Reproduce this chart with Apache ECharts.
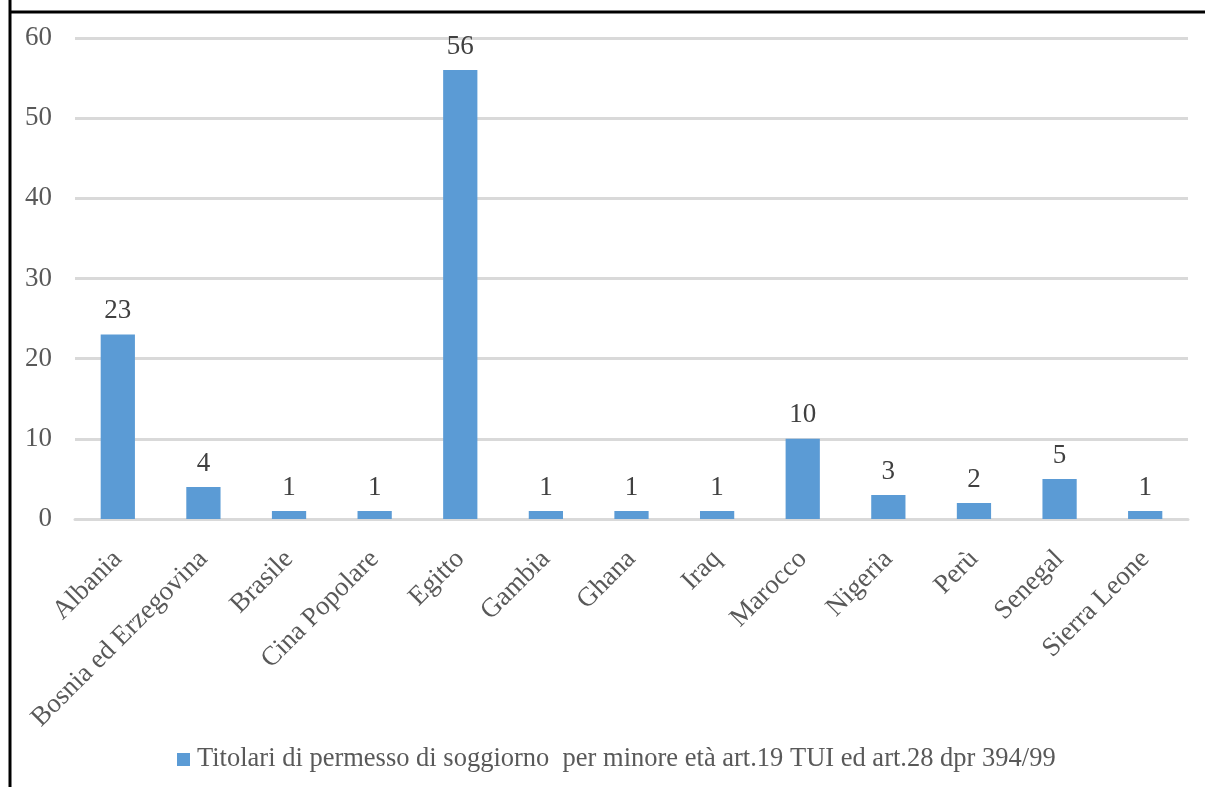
<!DOCTYPE html>
<html>
<head>
<meta charset="utf-8">
<script src="https://cdn.jsdelivr.net/npm/echarts@6/dist/echarts.min.js"></script>
<style>
html,body{margin:0;padding:0;background:#fff;}
#c{width:1205px;height:787px;}
</style>
</head>
<body>
<div id="c"></div>
<script>
const categories = ["Albania","Bosnia ed Erzegovina","Brasile","Cina Popolare","Egitto","Gambia","Ghana","Iraq","Marocco","Nigeria","Perù","Senegal","Sierra Leone"];
const values = [23,4,1,1,56,1,1,1,10,3,2,5,1];
const seriesName = "Titolari di permesso di soggiorno  per minore età art.19 TUI ed art.28 dpr 394/99";
const yTicks = {min:0, max:60, interval:10};

const FONT = "'Liberation Serif','Times New Roman',serif";
const chart = echarts.init(document.getElementById('c'));
chart.setOption({
  animation:false,
  backgroundColor:'#fff',
  grid:{left:75,right:17,top:38,bottom:268,containLabel:false},
  legend:{
    bottom:14,left:177,padding:0,
    icon:'rect',itemWidth:13,itemHeight:13,itemGap:10,
    textStyle:{fontFamily:FONT,fontSize:26.5,color:'#595959',padding:[0,0,0,2]},
    data:[seriesName]
  },
  xAxis:{
    type:'category',data:categories,
    axisLine:{show:true,lineStyle:{color:'#d9d9d9',width:3}},
    axisTick:{show:false},
    axisLabel:{rotate:45,interval:0,margin:36,fontFamily:FONT,fontSize:27,color:'#595959'}
  },
  yAxis:{
    type:'value',min:yTicks.min,max:yTicks.max,interval:yTicks.interval,
    axisLine:{show:false},axisTick:{show:false},
    splitLine:{lineStyle:{color:'#d9d9d9',width:3}},
    axisLabel:{margin:23,fontFamily:FONT,fontSize:27,color:'#595959'}
  },
  series:[{
    name:seriesName,type:'bar',data:values,barWidth:'40%',
    itemStyle:{color:'#5b9bd5'},
    label:{show:true,position:'top',distance:10,fontFamily:FONT,fontSize:27,color:'#404040'}
  }],
  graphic:[
    {type:'line',shape:{x1:10,y1:0,x2:10,y2:787},style:{stroke:'#000',lineWidth:3}},
    {type:'line',shape:{x1:10,y1:12,x2:1205,y2:12},style:{stroke:'#000',lineWidth:3}}
  ]
});
</script>
</body>
</html>
